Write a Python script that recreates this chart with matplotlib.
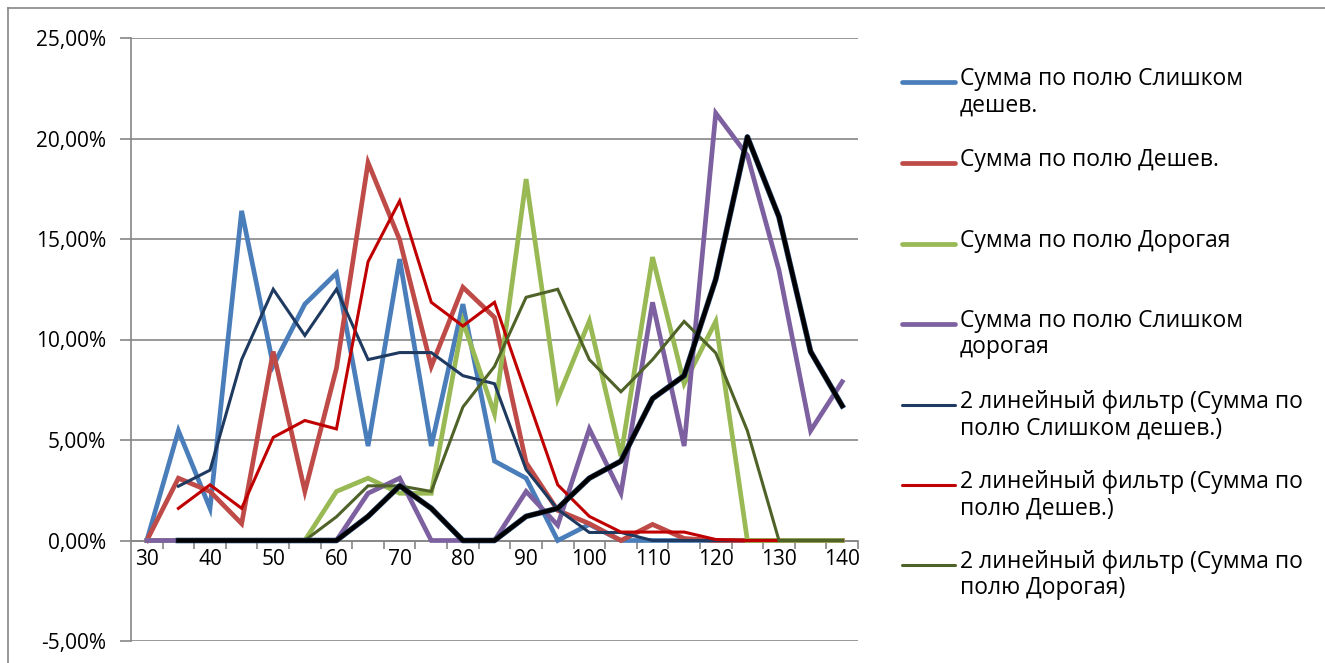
import matplotlib
matplotlib.use("Agg")
import matplotlib.pyplot as plt
from matplotlib.lines import Line2D
from matplotlib.ticker import FuncFormatter, FixedLocator
import numpy as np

plt.rcParams['font.family'] = ['Open Sans', 'DejaVu Sans']

# categories (price points)
prices = [30, 35, 40, 45, 50, 55, 60, 65, 70, 75, 80, 85, 90, 95, 100, 105, 110, 115, 120, 125, 130, 135, 140]

# shares, %
too_cheap = [0, 5.46, 1.6, 16.4, 8.7, 11.76, 13.3, 4.7, 14.0, 4.7, 11.76, 3.95, 3.1, 0, 0.8, 0, 0, 0, 0, 0, 0, 0, 0]
cheap = [0, 3.1, 2.44, 0.84, 9.4, 2.44, 8.57, 18.8, 14.96, 8.66, 12.6, 11.1, 3.87, 1.5, 0.84, 0, 0.8, 0.1, 0, 0, 0, 0, 0]
expensive = [0, 0, 0, 0, 0, 0, 2.44, 3.1, 2.35, 2.35, 10.9, 6.3, 17.98, 7.06, 10.92, 4.2, 14.1, 7.8, 10.9, 0, 0, 0, 0]
too_expensive = [0, 0, 0, 0, 0, 0, 0, 2.35, 3.1, 0, 0, 0, 2.44, 0.76, 5.55, 2.35, 11.85, 4.7, 21.26, 19.16, 13.45, 5.46, 7.9]

# 2-period moving average trendlines
ma_too_cheap = [np.nan, 2.7, 3.5, 9.0, 12.5, 10.2, 12.5, 9.0, 9.35, 9.35, 8.2, 7.8, 3.53, 1.55, 0.4, 0.4, 0, 0, 0, 0, 0, 0, 0]
ma_cheap = [np.nan, 1.6, 2.77, 1.6, 5.13, 5.97, 5.55, 13.87, 16.9, 11.85, 10.67, 11.85, 7.3, 2.77, 1.2, 0.42, 0.42, 0.42, 0.05, 0, 0, 0, 0]
ma_expensive = [np.nan, 0, 0, 0, 0, 0, 1.18, 2.72, 2.72, 2.44, 6.64, 8.66, 12.1, 12.5, 9.0, 7.4, 9.0, 10.9, 9.33, 5.46, 0, 0, 0]
ma_too_expensive = [np.nan, 0, 0, 0, 0, 0, 0, 1.2, 2.72, 1.6, 0, 0, 1.2, 1.6, 3.1, 3.95, 7.06, 8.2, 13.0, 20.08, 16.1, 9.4, 6.7]

labels = [
    "Сумма по полю Слишком\nдешев.",
    "Сумма по полю Дешев.",
    "Сумма по полю Дорогая",
    "Сумма по полю Слишком\nдорогая",
    "2 линейный фильтр (Сумма по\nполю Слишком дешев.)",
    "2 линейный фильтр (Сумма по\nполю Дешев.)",
    "2 линейный фильтр (Сумма по\nполю Дорогая)",
]

W, H = 1325, 663
fig = plt.figure(figsize=(W / 100, H / 100), dpi=100)
ax = fig.add_axes([131 / W, 1 - 641 / H, (858 - 131) / W, (641 - 38) / H])

x = np.arange(len(prices))
series = [
    (too_cheap, '#4A7EBB', 3.4),
    (cheap, '#BE4B48', 3.4),
    (expensive, '#98B954', 3.4),
    (too_expensive, '#7D60A0', 3.4),
    (ma_too_cheap, '#1F3A60', 2.2),
    (ma_cheap, '#C00000', 2.2),
    (ma_expensive, '#4F6228', 2.2),
]
for vals, c, lw in series:
    ax.plot(x, vals, color=c, lw=lw, solid_joinstyle='miter', zorder=3)
# trendline for "Слишком дорогая" (black, legend entry cut off)
ax.plot(x, ma_too_expensive, color='#1F3A60', lw=4.0, zorder=3)
ax.plot(x, ma_too_expensive, color='black', lw=3.0, zorder=3)

ax.set_xlim(-0.5, len(prices) - 0.5)
ax.set_ylim(-5, 25)
ax.set_yticks(np.arange(-5, 26, 5))
ax.yaxis.set_major_formatter(FuncFormatter(lambda v, p: ('%.2f%%' % v).replace('.', ',')))
ax.grid(axis='y', color='#868686', lw=1.2, zorder=0)

ax.xaxis.set_major_locator(FixedLocator(x[::2]))
ax.set_xticklabels([str(p) for p in prices[::2]])
ax.xaxis.set_minor_locator(FixedLocator(np.arange(0.5, len(prices), 1)))
ax.tick_params(axis='x', which='major', length=0, pad=6, labelsize=15)
ax.tick_params(axis='x', which='minor', length=6, width=1.2, color='#868686', direction='out')
ax.tick_params(axis='y', length=8, width=1.2, color='#868686', labelsize=15, pad=10)

ax.spines['bottom'].set_position(('data', 0))
ax.spines['bottom'].set_color('#868686')
ax.spines['bottom'].set_linewidth(1.2)
ax.spines['bottom'].set_zorder(1)
ax.spines['left'].set_color('#868686')
ax.spines['left'].set_linewidth(1.2)
ax.spines['top'].set_visible(False)
ax.spines['right'].set_visible(False)

# legend drawn by hand to match Excel layout
ys = [82, 163, 244, 324, 405, 485, 565]
for (vals, c, lw), lab, yy in zip(series, labels, ys):
    fy = 1 - yy / H
    fig.add_artist(Line2D([902 / W, 955 / W], [fy, fy], color=c, lw=lw, solid_capstyle='round'))
    fig.text(960 / W, fy + 15 / H, lab, fontsize=16.5, va='top', ha='left',
             linespacing=1.12)

# chart border
fig.add_artist(Line2D([8 / W, 1], [1 - 8 / H, 1 - 8 / H], color='#868686', lw=1.2))
fig.add_artist(Line2D([8 / W, 8 / W], [0, 1 - 8 / H], color='#868686', lw=1.2))

fig.savefig('out.png', dpi=100)
